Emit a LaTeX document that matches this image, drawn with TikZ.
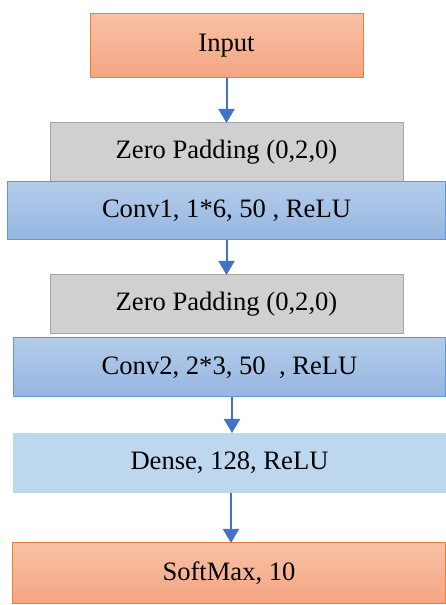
\documentclass[tikz,border=0pt]{standalone}
\usepackage{fontspec}
\setmainfont{Liberation Serif}
\usetikzlibrary{arrows.meta}

\definecolor{orangeTop}{HTML}{F8C1A6}
\definecolor{orangeBot}{HTML}{F4A582}
\definecolor{orangeLine}{HTML}{ED7D31}
\definecolor{greyFill}{HTML}{D0D0D0}
\definecolor{greyLine}{HTML}{A6A6A6}
\definecolor{blueTop}{HTML}{B3CCEA}
\definecolor{blueBot}{HTML}{96B6E1}
\definecolor{blueLine}{HTML}{5B9BD5}
\definecolor{denseFill}{HTML}{BDD7EE}
\definecolor{arrowBlue}{HTML}{4472C4}

\tikzset{
  layer/.style={rectangle, inner sep=0pt, outer sep=0pt, line width=1pt,
    font=\fontsize{26.6}{31}\selectfont},
  ioblock/.style={layer, top color=orangeTop, bottom color=orangeBot, draw=orangeLine},
  padblock/.style={layer, fill=greyFill, draw=greyLine},
  convblock/.style={layer, top color=blueTop, bottom color=blueBot, draw=blueLine},
  denseblock/.style={layer, fill=denseFill},
  flow/.style={draw=arrowBlue, line width=2pt, -{Triangle[width=16pt,length=14pt]}}
}

\begin{document}
\begin{tikzpicture}[x=1pt, y=1pt]
  \useasboundingbox (0,0) rectangle (446,605);

  \node[ioblock, minimum width=273pt, minimum height=64pt] (input) at (226.5,559) {Input};
  \node[padblock, minimum width=353pt, minimum height=59pt] (zp1) at (226.5,452.5) {Zero Padding (0,2,0)};
  \node[convblock, minimum width=438pt, minimum height=58pt] (conv1) at (226.5,394) {Conv1, 1*6, 50 , ReLU};
  \node[padblock, minimum width=353pt, minimum height=59pt] (zp2) at (226.5,300.5) {Zero Padding (0,2,0)};
  \node[convblock, minimum width=432pt, minimum height=59pt] (conv2) at (229.5,237.5) {Conv2, 2*3, 50~~, ReLU};
  \node[denseblock, minimum width=433pt, minimum height=60pt] (dense) at (229.5,142) {Dense, 128, ReLU};
  \node[ioblock, minimum width=433pt, minimum height=61pt] (softmax) at (229,31.5) {SoftMax, 10};

  \draw[flow] (input.south) -- (zp1.north);
  \draw[flow] (conv1.south) -- (zp2.north);
  \draw[flow] ([xshift=2.5pt]conv2.south) -- ([xshift=2.5pt]conv2.south |- dense.north);
  \draw[flow] ([xshift=1.5pt]dense.south) -- ([xshift=1.5pt]dense.south |- softmax.north);
\end{tikzpicture}
\end{document}
